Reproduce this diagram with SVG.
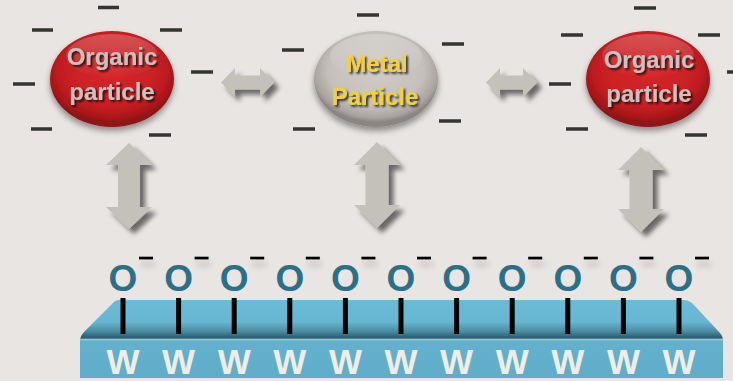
<svg xmlns="http://www.w3.org/2000/svg" width="733" height="381" viewBox="0 0 733 381">
  <defs>
    <radialGradient id="redFill" cx="50%" cy="40%" r="55%">
      <stop offset="0" stop-color="#d8272b"/>
      <stop offset="0.7" stop-color="#c81f23"/>
      <stop offset="0.92" stop-color="#a9171b"/>
      <stop offset="1" stop-color="#8e1215"/>
    </radialGradient>
    <radialGradient id="greyFill" cx="50%" cy="40%" r="55%">
      <stop offset="0" stop-color="#d1ccc7"/>
      <stop offset="0.7" stop-color="#c5c0bb"/>
      <stop offset="0.92" stop-color="#a8a39e"/>
      <stop offset="1" stop-color="#8b8681"/>
    </radialGradient>
    <linearGradient id="gloss" x1="0" y1="0" x2="0" y2="1">
      <stop offset="0" stop-color="#ffffff" stop-opacity="0.22"/>
      <stop offset="1" stop-color="#ffffff" stop-opacity="0"/>
    </linearGradient>
    <linearGradient id="slabFill" gradientUnits="userSpaceOnUse" x1="0" y1="300" x2="0" y2="378">
      <stop offset="0" stop-color="#6bbbd7"/>
      <stop offset="0.28" stop-color="#67b6d2"/>
      <stop offset="0.4" stop-color="#4a8ea3"/>
      <stop offset="0.49" stop-color="#2c5868"/>
      <stop offset="0.5" stop-color="#9ccfd9"/>
      <stop offset="0.53" stop-color="#63b1cc"/>
      <stop offset="1" stop-color="#60adc9"/>
    </linearGradient>
    <filter id="arrowShadow" x="-30%" y="-30%" width="170%" height="170%">
      <feGaussianBlur in="SourceAlpha" stdDeviation="2.5"/>
      <feOffset dx="5" dy="5" result="b"/>
      <feComponentTransfer><feFuncA type="linear" slope="0.55"/></feComponentTransfer>
      <feMerge><feMergeNode/><feMergeNode in="SourceGraphic"/></feMerge>
    </filter>
    <filter id="ballShadow" x="-20%" y="-20%" width="140%" height="150%">
      <feGaussianBlur in="SourceAlpha" stdDeviation="3"/>
      <feOffset dx="0" dy="4"/>
      <feComponentTransfer><feFuncA type="linear" slope="0.4"/></feComponentTransfer>
      <feMerge><feMergeNode/><feMergeNode in="SourceGraphic"/></feMerge>
    </filter>
    <filter id="textShadow" x="-10%" y="-20%" width="130%" height="150%">
      <feGaussianBlur in="SourceAlpha" stdDeviation="1"/>
      <feOffset dx="1.5" dy="1.5"/>
      <feComponentTransfer><feFuncA type="linear" slope="0.75"/></feComponentTransfer>
      <feMerge><feMergeNode/><feMergeNode in="SourceGraphic"/></feMerge>
    </filter>
    <filter id="barShadow" filterUnits="userSpaceOnUse" x="100" y="240" width="633" height="40">
      <feGaussianBlur in="SourceAlpha" stdDeviation="3"/>
      <feOffset dx="2" dy="6"/>
      <feComponentTransfer><feFuncA type="linear" slope="0.25"/></feComponentTransfer>
      <feMerge><feMergeNode/><feMergeNode in="SourceGraphic"/></feMerge>
    </filter>
  </defs>
  <style>
    .charge { stroke: #35342e; stroke-width: 3.5; }
    .label { font-family: "Liberation Sans", Arial, sans-serif; font-weight: bold; font-size: 24px; text-anchor: middle; }
    .organic { fill: #c8c3be; }
    .metal { fill: #f6cf3e; }
    .arrow { fill: #c4c0ba; }
    .oxy { font-family: "Liberation Sans", Arial, sans-serif; font-weight: bold; font-size: 37px; fill: #2b6f88; text-anchor: middle; }
    .w { font-family: "Liberation Sans", Arial, sans-serif; font-weight: bold; font-size: 35px; fill: #f0ece6; text-anchor: middle; }
    .bond { stroke: #000000; stroke-width: 5; }
    .neg { fill: #000000; }
  </style>

  <rect width="733" height="381" fill="#e8e5e2"/>

  <!-- surface slab with W atoms -->
  <g id="surface">
    <path d="M119,300 L684,300 Q689,300 693,304 L720,333 Q723,336 723,341 L723,378 L80,378 L80,341 Q80,336 84,332 L112,304 Q115,300 119,300 Z" fill="url(#slabFill)"/>
    <text class="w" x="123" y="374">W</text>
    <text class="w" x="178.6" y="374">W</text>
    <text class="w" x="234.2" y="374">W</text>
    <text class="w" x="289.8" y="374">W</text>
    <text class="w" x="345.4" y="374">W</text>
    <text class="w" x="401" y="374">W</text>
    <text class="w" x="456.6" y="374">W</text>
    <text class="w" x="512.2" y="374">W</text>
    <text class="w" x="567.8" y="374">W</text>
    <text class="w" x="623.4" y="374">W</text>
    <text class="w" x="679" y="374">W</text>
  </g>

  <!-- W–O bonds -->
  <g id="bonds">
    <line class="bond" x1="123" y1="298" x2="123" y2="334"/>
    <line class="bond" x1="178.6" y1="298" x2="178.6" y2="334"/>
    <line class="bond" x1="234.2" y1="298" x2="234.2" y2="334"/>
    <line class="bond" x1="289.8" y1="298" x2="289.8" y2="334"/>
    <line class="bond" x1="345.4" y1="298" x2="345.4" y2="334"/>
    <line class="bond" x1="401" y1="298" x2="401" y2="334"/>
    <line class="bond" x1="456.6" y1="298" x2="456.6" y2="334"/>
    <line class="bond" x1="512.2" y1="298" x2="512.2" y2="334"/>
    <line class="bond" x1="567.8" y1="298" x2="567.8" y2="334"/>
    <line class="bond" x1="623.4" y1="298" x2="623.4" y2="334"/>
    <line class="bond" x1="679" y1="298" x2="679" y2="334"/>
  </g>

  <!-- surface oxygen anions -->
  <g id="oxygens">
    <g filter="url(#barShadow)">
      <rect class="neg" x="139" y="256.7" width="14" height="2.7"/>
      <rect class="neg" x="194.6" y="256.7" width="14" height="2.7"/>
      <rect class="neg" x="250.2" y="256.7" width="14" height="2.7"/>
      <rect class="neg" x="305.8" y="256.7" width="14" height="2.7"/>
      <rect class="neg" x="361.4" y="256.7" width="14" height="2.7"/>
      <rect class="neg" x="417" y="256.7" width="14" height="2.7"/>
      <rect class="neg" x="472.6" y="256.7" width="14" height="2.7"/>
      <rect class="neg" x="528.2" y="256.7" width="14" height="2.7"/>
      <rect class="neg" x="583.8" y="256.7" width="14" height="2.7"/>
      <rect class="neg" x="639.4" y="256.7" width="14" height="2.7"/>
      <rect class="neg" x="695" y="256.7" width="14" height="2.7"/>
    </g>
    <text class="oxy" x="123" y="291">O</text>
    <text class="oxy" x="178.6" y="291">O</text>
    <text class="oxy" x="234.2" y="291">O</text>
    <text class="oxy" x="289.8" y="291">O</text>
    <text class="oxy" x="345.4" y="291">O</text>
    <text class="oxy" x="401" y="291">O</text>
    <text class="oxy" x="456.6" y="291">O</text>
    <text class="oxy" x="512.2" y="291">O</text>
    <text class="oxy" x="567.8" y="291">O</text>
    <text class="oxy" x="623.4" y="291">O</text>
    <text class="oxy" x="679" y="291">O</text>
  </g>

  <!-- left organic particle -->
  <g id="organic-left">
    <ellipse cx="112" cy="79" rx="62" ry="48" fill="url(#redFill)" filter="url(#ballShadow)"/>
    <ellipse cx="112" cy="56" rx="46" ry="22" fill="url(#gloss)"/>
    <g filter="url(#textShadow)">
      <text class="label organic" x="112" y="65">Organic</text>
      <text class="label organic" x="112" y="100">particle</text>
    </g>
    <line class="charge" x1="98" y1="7.5" x2="119" y2="7.5"/>
    <line class="charge" x1="32" y1="30" x2="53" y2="30"/>
    <line class="charge" x1="160" y1="30" x2="182" y2="30"/>
    <line class="charge" x1="13" y1="84" x2="35" y2="84"/>
    <line class="charge" x1="191" y1="72" x2="213" y2="72"/>
    <line class="charge" x1="31" y1="129" x2="52" y2="129"/>
    <line class="charge" x1="149" y1="135" x2="171" y2="135"/>
  </g>

  <!-- metal particle -->
  <g id="metal">
    <ellipse cx="376" cy="79" rx="62" ry="48" fill="url(#greyFill)" filter="url(#ballShadow)"/>
    <ellipse cx="376" cy="56" rx="46" ry="22" fill="url(#gloss)"/>
    <g filter="url(#textShadow)">
      <text class="label metal" x="377" y="72">Metal</text>
      <text class="label metal" x="375" y="105">Particle</text>
    </g>
    <line class="charge" x1="357" y1="15" x2="379" y2="15"/>
    <line class="charge" x1="282" y1="50" x2="304" y2="50"/>
    <line class="charge" x1="442" y1="44" x2="464" y2="44"/>
    <line class="charge" x1="293" y1="129" x2="315" y2="129"/>
    <line class="charge" x1="439" y1="121" x2="461" y2="121"/>
  </g>

  <!-- right organic particle -->
  <g id="organic-right">
    <ellipse cx="648" cy="79" rx="62" ry="48" fill="url(#redFill)" filter="url(#ballShadow)"/>
    <ellipse cx="648" cy="56" rx="46" ry="22" fill="url(#gloss)"/>
    <g filter="url(#textShadow)">
      <text class="label organic" x="649" y="68">Organic</text>
      <text class="label organic" x="649" y="102">particle</text>
    </g>
    <line class="charge" x1="634" y1="8" x2="656" y2="8"/>
    <line class="charge" x1="561" y1="35" x2="583" y2="35"/>
    <line class="charge" x1="698" y1="35" x2="720" y2="35"/>
    <line class="charge" x1="549" y1="84" x2="571" y2="84"/>
    <line class="charge" x1="727" y1="72" x2="749" y2="72"/>
    <line class="charge" x1="566" y1="129" x2="588" y2="129"/>
    <line class="charge" x1="685" y1="135" x2="707" y2="135"/>
  </g>

  <!-- interaction arrows -->
  <g id="connectors" class="arrow" filter="url(#arrowShadow)">
    <path d="M221,82.5 L235,68 L235,75.5 L260,75.5 L260,68 L274,82.5 L260,97 L260,89.5 L235,89.5 L235,97 Z"/>
    <path d="M486,82.5 L500,68 L500,75.5 L523,75.5 L523,68 L537,82.5 L523,97 L523,89.5 L500,89.5 L500,97 Z"/>
    <path d="M129,143 L152,165 L140,165 L140,207 L152,207 L129,229 L106,207 L118,207 L118,165 L106,165 Z"/>
    <path d="M377,142 L400,165 L388.5,165 L388.5,205 L400,205 L377,228 L354,205 L365.5,205 L365.5,165 L354,165 Z"/>
    <path d="M641,147 L664,170 L652.5,170 L652.5,209 L664,209 L641,232 L618,209 L629.5,209 L629.5,170 L618,170 Z"/>
  </g>
</svg>
